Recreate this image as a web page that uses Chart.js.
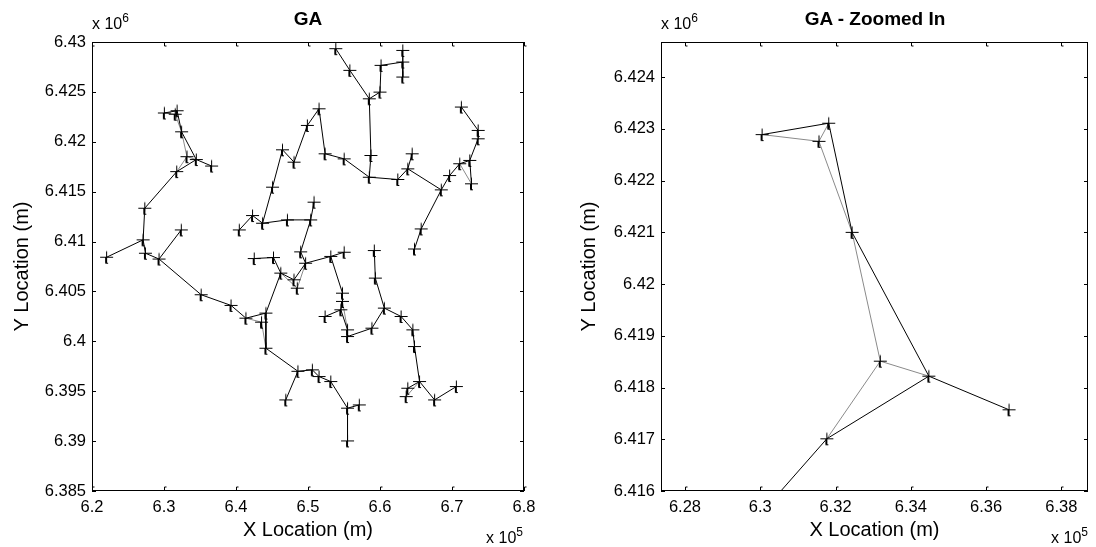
<!DOCTYPE html>
<html>
<head>
<meta charset="utf-8">
<script src="https://cdn.jsdelivr.net/npm/chart.js@4.4.1/dist/chart.umd.min.js"></script>
<style>
  html, body { margin: 0; padding: 0; background: #fff; }
  #wrap { position: relative; width: 1096px; height: 547px; overflow: hidden;
          font-family: "Liberation Sans", Arial, sans-serif; color: #000; }
  canvas { position: absolute; top: 0; }
  .lbl { position: absolute; white-space: nowrap; line-height: 1; }
  .title { font-weight: bold; font-size: 19px; top: 9px; transform: translateX(-50%); }
  .exp { font-size: 16px; }
  .exp sup { font-size: 12px; vertical-align: baseline; position: relative; top: -7px; }
</style>
</head>
<body>
<div id="wrap">
  <canvas id="left" width="560" height="547" style="left:0"></canvas>
  <canvas id="right" width="536" height="547" style="left:560px"></canvas>
  <div class="lbl title" style="left:308px">GA</div>
  <div class="lbl title" style="left:875px">GA - Zoomed In</div>
  <div class="lbl exp" style="left:92px;top:16px">x 10<sup>6</sup></div>
  <div class="lbl exp" style="left:661px;top:16px">x 10<sup>6</sup></div>
  <div class="lbl exp" style="right:573px;top:530px">x 10<sup>5</sup></div>
  <div class="lbl exp" style="right:8px;top:530px">x 10<sup>5</sup></div>
</div>
<script>
// node positions, x in 1e5 m, y in 1e6 m
const nodeX = [
  6.3005, 6.3182, 6.3156, 6.3244, 6.3319, 6.3448, 6.3661, 6.3177, 6.2733, 6.2710,   // 0-9
  6.2203, 6.2742, 6.2931, 6.3240, 6.3516, 6.3931, 6.4138, 6.4415, 6.4355, 6.4415,   // 10-19
  6.4860, 6.4691, 6.4622, 6.4253, 6.4520, 6.4805, 6.4851, 6.4967, 6.4898, 6.5037,   // 20-29
  6.5084, 6.4714, 6.4369, 6.4230, 6.4046, 6.4507, 6.4645, 6.4806, 6.4991, 6.5153,   // 30-39
  6.5237, 6.5502, 6.5851, 6.5874, 6.5851, 6.5581, 6.5386, 6.6000, 6.6014, 6.6316,   // 40-49
  6.6316, 6.6316, 6.6247, 6.6386, 6.6447, 6.6851, 6.6572, 6.6479, 6.6967, 6.7107,   // 50-59
  6.7247, 6.7363, 6.7363, 6.7130, 6.7270, 6.5316, 6.5502, 6.5479, 6.5479, 6.5456,   // 60-69
  6.5237, 6.5549, 6.5549, 6.5888, 6.6060, 6.5935, 6.5921, 6.6293, 6.6456, 6.6479,   // 70-79
  6.6549, 6.6758, 6.7060, 6.6386, 6.6363, 6.5060, 6.5153, 6.5316, 6.5549, 6.5549,   // 80-89
  6.5712                                                                            // 90
];
const nodeY = [
  6.42289, 6.42311, 6.42276, 6.42100, 6.41851, 6.41822, 6.41757, 6.41701, 6.41334, 6.41017,
  6.40843, 6.40883, 6.40825, 6.41117, 6.40467, 6.40360, 6.40232, 6.40283, 6.40192, 6.39931,
  6.39700, 6.39413, 6.40684, 6.40830, 6.40840, 6.40617, 6.40533, 6.40783, 6.40897, 6.41217,
  6.41395, 6.41217, 6.41184, 6.41261, 6.41117, 6.41545, 6.41920, 6.41796, 6.42164, 6.42331,
  6.41880, 6.41829, 6.41645, 6.41863, 6.42431, 6.42716, 6.42933, 6.42498, 6.42766, 6.42799,
  6.42916, 6.42649, 6.41622, 6.41729, 6.41880, 6.41518, 6.41127, 6.40926, 6.41662, 6.41780,
  6.41813, 6.42030, 6.42114, 6.42348, 6.41579, 6.40851, 6.40893, 6.40483, 6.40400, 6.40316,
  6.40249, 6.40115, 6.40048, 6.40132, 6.40333, 6.40634, 6.40910, 6.40249, 6.40115, 6.39948,
  6.39597, 6.39413, 6.39547, 6.39530, 6.39446, 6.39714, 6.39647, 6.39597, 6.39330, 6.39002,
  6.39363
];

// links of the GA network (black) and of the second solution (gray)
const blackEdges = [
  [0,1],[1,3],[3,5],[5,6],[5,7],[7,8],[8,9],[9,10],[9,11],[11,12],[12,13],[12,14],
  [14,15],[15,16],[16,17],[17,19],[19,20],[20,21],[17,22],[24,22],[23,24],[22,25],
  [25,27],[27,28],[28,29],[29,30],[29,31],[31,32],[32,33],[33,34],[32,35],[35,36],
  [36,37],[37,38],[38,39],[39,40],[40,41],[41,42],[42,43],[43,44],[44,45],[45,46],
  [44,47],[47,48],[48,49],[49,50],[49,51],[42,52],[52,53],[53,54],[53,55],[55,56],
  [56,57],[55,58],[58,59],[59,60],[60,61],[61,62],[62,63],[60,64],[27,65],[65,66],
  [65,67],[67,68],[68,69],[69,70],[69,71],[71,72],[72,73],[73,74],[74,75],[75,76],
  [74,77],[77,78],[78,79],[79,80],[80,81],[81,82],[80,83],[83,84],[20,85],[85,86],
  [86,87],[87,88],[88,89],[88,90]
];
const grayEdges = [
  [0,2],[2,1],[2,3],[3,4],[4,5],[4,7],[16,18],[18,19],[22,26],[26,27],[68,71],
  [59,64],[80,84]
];

// axis limits and tick labels
const leftX = [6.2, 6.3, 6.4, 6.5, 6.6, 6.7, 6.8];
const leftXLabels = ['6.2', '6.3', '6.4', '6.5', '6.6', '6.7', '6.8'];
const leftY = [6.385, 6.39, 6.395, 6.4, 6.405, 6.41, 6.415, 6.42, 6.425, 6.43];
const leftYLabels = ['6.385', '6.39', '6.395', '6.4', '6.405', '6.41', '6.415', '6.42', '6.425', '6.43'];
const rightX = [6.28, 6.3, 6.32, 6.34, 6.36, 6.38];
const rightXLabels = ['6.28', '6.3', '6.32', '6.34', '6.36', '6.38'];
const rightY = [6.416, 6.417, 6.418, 6.419, 6.42, 6.421, 6.422, 6.423, 6.424];
const rightYLabels = ['6.416', '6.417', '6.418', '6.419', '6.42', '6.421', '6.422', '6.423', '6.424'];

Chart.defaults.font.family = '"Liberation Sans", Arial, sans-serif';
Chart.defaults.color = '#000';

function segments(edges) {
  const out = [];
  edges.forEach(([a, b]) => {
    out.push({ x: nodeX[a], y: nodeY[a] }, { x: nodeX[b], y: nodeY[b] }, { x: null, y: null });
  });
  return out;
}
const nodes = nodeX.map((x, i) => ({ x: x, y: nodeY[i] }));

// '+' marker with the little hooked stem seen in the exported figure
function plusMarker() {
  const c = document.createElement('canvas');
  c.width = 15; c.height = 15;
  const g = c.getContext('2d');
  g.strokeStyle = '#000';
  g.lineWidth = 1;
  g.beginPath();
  g.moveTo(1, 7.5); g.lineTo(14, 7.5);
  g.moveTo(7.5, 1.5); g.lineTo(7.5, 13);
  g.moveTo(6.5, 8); g.lineTo(6.5, 13.5); g.lineTo(9, 13.5);
  g.stroke();
  return c;
}
const marker = plusMarker();

// matlab style box with inward ticks
const boxPlugin = {
  id: 'box',
  beforeDatasetsDraw(chart) {
    const { ctx, chartArea: a, scales: { x, y } } = chart;
    ctx.save();
    ctx.strokeStyle = '#000';
    ctx.lineWidth = 1;
    ctx.strokeRect(a.left + 0.5, a.top + 0.5, a.right - a.left - 1, a.bottom - a.top - 1);
    ctx.beginPath();
    x.ticks.forEach(t => {
      const px = Math.round(x.getPixelForValue(t.value)) + 0.5;
      ctx.moveTo(px, a.bottom); ctx.lineTo(px, a.bottom - 4); ctx.lineTo(px + 2, a.bottom - 4);
      ctx.moveTo(px, a.top); ctx.lineTo(px, a.top + 4); ctx.lineTo(px + 2, a.top + 4);
    });
    y.ticks.forEach(t => {
      const py = Math.round(y.getPixelForValue(t.value)) + 0.5;
      ctx.moveTo(a.left, py); ctx.lineTo(a.left + 4, py);
      ctx.moveTo(a.right, py); ctx.lineTo(a.right - 4, py);
    });
    ctx.stroke();
    ctx.restore();
  }
};

function makeChart(id, o) {
  return new Chart(document.getElementById(id), {
    type: 'scatter',
    data: {
      datasets: [
        { data: nodes, showLine: false, pointStyle: marker, pointRadius: 7,
          borderColor: '#000', borderWidth: 1, order: 0, clip: 0 },
        { data: segments(blackEdges), showLine: true, borderColor: '#000', borderWidth: 1,
          pointRadius: 0, spanGaps: false, order: 1, clip: 0 },
        { data: segments(grayEdges), showLine: true, borderColor: '#8a8a8a', borderWidth: 1,
          pointRadius: 0, spanGaps: false, order: 2, clip: 0 }
      ]
    },
    options: {
      responsive: false,
      animation: false,
      events: [],
      layout: { padding: { top: 42, right: o.padRight, left: 0, bottom: 0 } },
      plugins: { legend: { display: false }, tooltip: { enabled: false } },
      scales: {
        x: {
          type: 'linear', min: o.xMin, max: o.xMax,
          afterBuildTicks: s => { s.ticks = o.xTicks.map(v => ({ value: v })); },
          afterFit: s => { s.height = 56; },
          grid: { display: false, drawTicks: false },
          border: { display: false },
          ticks: { callback: (v, i) => o.xLabels[i], font: { size: 16.5 }, padding: 7,
                   maxRotation: 0, autoSkip: false },
          title: { display: true, text: 'X Location (m)', font: { size: 20 },
                   padding: { top: 0, bottom: 5 } }
        },
        y: {
          type: 'linear', min: o.yMin, max: o.yMax,
          afterBuildTicks: s => { s.ticks = o.yTicks.map(v => ({ value: v })); },
          afterFit: s => { s.width = o.yWidth; },
          grid: { display: false, drawTicks: false },
          border: { display: false },
          ticks: { callback: (v, i) => o.yLabels[i], font: { size: 16.5 }, padding: 6, autoSkip: false },
          title: { display: true, text: 'Y Location (m)', font: { size: 20 },
                   padding: { top: o.yTitlePad, bottom: 0 } }
        }
      }
    },
    plugins: [boxPlugin]
  });
}

makeChart('left', {
  xMin: 6.2, xMax: 6.8, yMin: 6.385, yMax: 6.43,
  xTicks: leftX, xLabels: leftXLabels, yTicks: leftY, yLabels: leftYLabels,
  yWidth: 92, padRight: 36, yTitlePad: 10
});
makeChart('right', {
  xMin: 6.27364, xMax: 6.38708, yMin: 6.416, yMax: 6.42468,
  xTicks: rightX, xLabels: rightXLabels, yTicks: rightY, yLabels: rightYLabels,
  yWidth: 101, padRight: 6, yTitlePad: 17
});
</script>
</body>
</html>
